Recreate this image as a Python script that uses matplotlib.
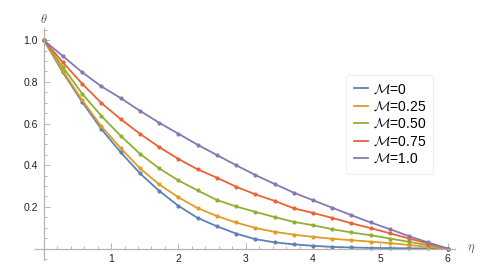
import numpy as np
import matplotlib
matplotlib.use("Agg")
import matplotlib.pyplot as plt
from matplotlib.ticker import MultipleLocator, FixedLocator

plt.rcParams['font.family'] = ['Liberation Sans', 'DejaVu Sans']
plt.rcParams['mathtext.fontset'] = 'cm'

# eta grid of the sample markers (22 points, 0..6)
eta = np.linspace(0, 6, 22)

labels = [r'$\mathcal{M}$=0', r'$\mathcal{M}$=0.25', r'$\mathcal{M}$=0.50',
          r'$\mathcal{M}$=0.75', r'$\mathcal{M}$=1.0']
colors = ['#5E81B5', '#E19C24', '#8FB032', '#EB6235', '#8778B3']

theta_m0 = [1.0, 0.845, 0.703, 0.573, 0.462, 0.361, 0.277, 0.205, 0.147, 0.107, 0.072,
            0.045, 0.030, 0.020, 0.013, 0.008, 0.005, 0.003, 0.002, 0.001, 0.0005, 0.0]
theta_m025 = [1.0, 0.852, 0.712, 0.586, 0.482, 0.385, 0.308, 0.246, 0.194, 0.156, 0.125,
              0.099, 0.080, 0.067, 0.056, 0.047, 0.040, 0.033, 0.026, 0.017, 0.008, 0.0]
theta_m050 = [1.0, 0.870, 0.743, 0.636, 0.541, 0.455, 0.385, 0.327, 0.279, 0.233, 0.202,
              0.176, 0.151, 0.128, 0.112, 0.093, 0.077, 0.064, 0.048, 0.032, 0.016, 0.0]
theta_m075 = [1.0, 0.893, 0.791, 0.698, 0.621, 0.551, 0.487, 0.430, 0.380, 0.340, 0.297,
              0.260, 0.229, 0.193, 0.171, 0.147, 0.121, 0.098, 0.073, 0.048, 0.024, 0.0]
theta_m100 = [1.0, 0.923, 0.846, 0.778, 0.722, 0.661, 0.604, 0.551, 0.498, 0.449, 0.400,
              0.353, 0.310, 0.268, 0.232, 0.196, 0.160, 0.125, 0.093, 0.059, 0.029, 0.0]
series = [theta_m0, theta_m025, theta_m050, theta_m075, theta_m100]

fig = plt.figure(figsize=(4.9, 2.79), dpi=100)
ax = fig.add_axes([35/490, 19/279, 420/490, (260-28.3)/279])

for y, c, lab in zip(series, colors, labels):
    ax.plot(eta, y, color=c, lw=1.3, marker='o', ms=2.0, mec=c, mfc=c, label=lab)

ax.set_xlim(-0.13, 6.11)
ax.set_ylim(-0.055, 1.057)

axis_col = '#B4B4B4'
for s in ['top', 'right']:
    ax.spines[s].set_visible(False)
ax.spines['left'].set_position(('data', 0))
ax.spines['bottom'].set_position(('data', 0))
for s in ['left', 'bottom']:
    ax.spines[s].set_color(axis_col)
    ax.spines[s].set_linewidth(0.9)

ax.xaxis.set_major_locator(FixedLocator([1, 2, 3, 4, 5, 6]))
ax.xaxis.set_minor_locator(MultipleLocator(0.2))
ax.yaxis.set_major_locator(FixedLocator([0.2, 0.4, 0.6, 0.8, 1.0]))
ax.yaxis.set_minor_locator(MultipleLocator(0.05))
ax.set_yticklabels(['0.2', '0.4', '0.6', '0.8', '1.0'])
ax.tick_params(which='both', direction='in', color=axis_col, labelsize=7.5,
               labelcolor='#222222', width=0.7)
ax.tick_params(which='major', length=4, pad=4)
ax.tick_params(which='minor', length=2.2)

ax.text(0.0, 1.10, r'$\theta$', transform=ax.transData, ha='center', va='center',
        fontsize=9, color='#555555', clip_on=False)
ax.text(6.35, 0.0, r'$\eta$', transform=ax.transData, ha='center', va='center',
        fontsize=9, color='#555555', clip_on=False)

leg = ax.legend(loc='upper right', bbox_to_anchor=(0.965, 0.83), fontsize=10,
                handlelength=1.0, handletextpad=0.35, labelspacing=0.25,
                borderpad=0.55, frameon=True, fancybox=True)
leg.get_frame().set_edgecolor('#EBEBEB')
leg.get_frame().set_linewidth(0.8)
for h in leg.get_lines():
    h.set_marker('')

fig.savefig('out.png', dpi=100)
